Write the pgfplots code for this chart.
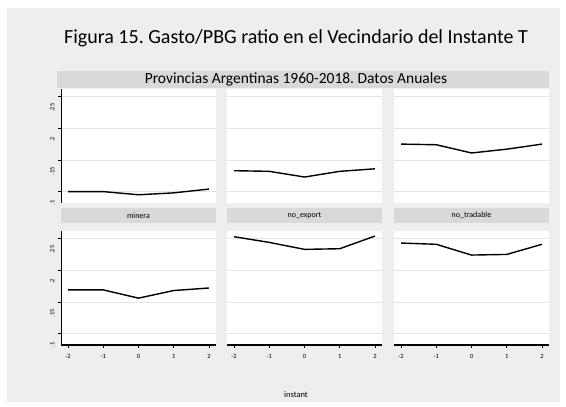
\documentclass[border=0pt]{standalone}
\usepackage{fontspec}
\setmainfont{Carlito}
\usepackage{pgfplots}
\pgfplotsset{compat=1.18}
\frenchspacing
\definecolor{bg}{HTML}{EEEEEE}
\definecolor{strip}{HTML}{D9D9D9}
\definecolor{gridc}{HTML}{E4E4E4}

\pgfplotsset{
  panel/.style={
    scale only axis, width=155pt, height=114pt,
    anchor=north west,
    xmin=-2.2, xmax=2.2, ymin=0.082, ymax=0.262,
    axis background/.style={fill=white},
    separate axis lines,
    axis x line*=bottom, axis y line*=left,
    axis line style={-},
    x axis line style={draw=none}, y axis line style={draw=none},
    ytick={0.1,0.15,0.2,0.25}, yticklabels={},
    ymajorgrids, grid style={gridc, line width=0.8pt},
    xtick={-2,-1,0,1,2}, xticklabels={},
    tick align=outside, major tick length=3pt,
    tick style={black, line width=0.7pt},
    xtick style={draw=none}, ytick style={draw=none},
    /pgf/number format/assume math mode=true,
    ticklabel style={font=\fontsize{6.5}{7}\selectfont},
    clip=false,
  },
  leftcol/.style={
    y axis line style={draw=black, line width=1pt},
    ytick style={draw=black},
    yticklabels={.1,.15,.2,.25},
    yticklabel style={rotate=90, anchor=south, xshift=-11pt},
  },
  botrow/.style={
    x axis line style={draw=black, line width=1.3pt},
    xtick style={draw=black},
    xticklabels={-2,-1,0,1,2},
    xticklabel style={yshift=-3pt},
    title style={at={(0.5,1)}, anchor=south, yshift=2pt, fill=strip,
      minimum width=155pt, minimum height=15pt, inner sep=0pt,
      font=\fontsize{8}{9}\selectfont},
  },
  series/.style={black, line width=1.4pt, no marks},
}

\begin{document}
\begin{tikzpicture}
\path[use as bounding box, fill=white] (0pt,0pt) rectangle (566pt,-407pt);
\fill[bg] (7pt,-8pt) rectangle (560pt,-402pt);
\node[font=\fontsize{20}{22}\selectfont] at (296pt,-38pt) {Figura 15. Gasto/PBG ratio en el Vecindario del Instante T};
\fill[strip] (57pt,-71pt) rectangle (549pt,-88pt);
\node[font=\fontsize{15.5}{17}\selectfont] at (296pt,-79.5pt) {Provincias Argentinas 1960-2018. Datos Anuales};

% top row
\begin{axis}[panel, leftcol, at={(61pt,-89pt)}]
\addplot[series] coordinates {(-2,0.100) (-1,0.100) (0,0.095) (1,0.098) (2,0.104)};
\end{axis}
\begin{axis}[panel, at={(227pt,-89pt)}]
\addplot[series] coordinates {(-2,0.133) (-1,0.132) (0,0.123) (1,0.132) (2,0.136)};
\end{axis}
\begin{axis}[panel, at={(394pt,-89pt)}]
\addplot[series] coordinates {(-2,0.175) (-1,0.174) (0,0.161) (1,0.167) (2,0.175)};
\end{axis}

% bottom row
\begin{axis}[panel, leftcol, botrow, at={(61pt,-231pt)}, title={minera}]
\addplot[series] coordinates {(-2,0.169) (-1,0.169) (0,0.156) (1,0.168) (2,0.172)};
\end{axis}
\begin{axis}[panel, botrow, at={(227pt,-231pt)}, title={no\_export}]
\addplot[series] coordinates {(-2,0.253) (-1,0.244) (0,0.233) (1,0.234) (2,0.254)};
\end{axis}
\begin{axis}[panel, botrow, at={(394pt,-231pt)}, title={no\_tradable}]
\addplot[series] coordinates {(-2,0.243) (-1,0.241) (0,0.224) (1,0.225) (2,0.241)};
\end{axis}

\node[font=\fontsize{8.5}{10}\selectfont] at (296pt,-395pt) {instant};
\end{tikzpicture}
\end{document}
